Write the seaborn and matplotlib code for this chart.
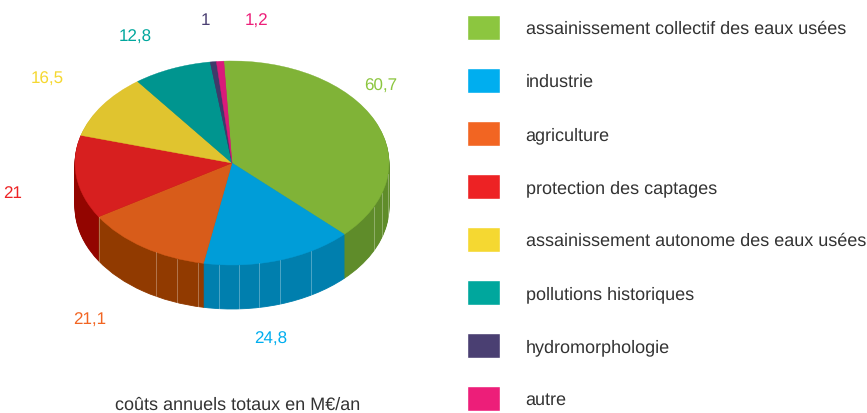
"""
plot.py

Pie chart drawn with a fake 3D side, plus a swatch list on the right.
"""
import numpy as np
import seaborn as sns
import matplotlib.pyplot as plt

categories = [
    "assainissement collectif des eaux usées",
    "industrie",
    "agriculture",
    "protection des captages",
    "assainissement autonome des eaux usées",
    "pollutions historiques",
    "hydromorphologie",
    "autre",
]
values = [60.7, 24.8, 21.1, 21, 16.5, 12.8, 1, 1.2]
value_labels = ["60,7", "24,8", "21,1", "21", "16,5", "12,8", "1", "1,2"]
caption = "coûts annuels totaux en M€/an"

legend_colors = ["#8cc63f", "#00aeef", "#f26522", "#ed2224", "#f5d831", "#00a79d", "#4a3f72", "#ed1e79"]
top_colors = ["#80b337", "#009dd8", "#d85c1a", "#d71f1f", "#e0c42f", "#00958f", "#3f3a6b", "#d91a7a"]
side_colors = ["#5f8c2a", "#007fae", "#913a00", "#930500", "#a08a10", "#006a66", "#2a2650", "#90104f"]
label_pos = [(381, 86), (271, 339), (90, 320), (13, 194), (47, 79), (135, 37), (205, 21), (257, 21)]

# light seams on the side of the pie, x in pixels
seam_x = [99, 156, 177, 198, 219, 239, 259, 280, 311, 374, 382, 388]

W, H = 867, 413
CX, CY, RX, RY = 232, 163, 157, 102
DEPTH = 44


def draw_pie(ax, colors, offset, lw):
    wedges, _ = ax.pie(values, colors=colors, startangle=93, counterclock=False,
                       center=(0, offset), radius=1, normalize=True)
    for wedge, color in zip(wedges, colors):
        wedge.set_edgecolor(color)
        wedge.set_linewidth(lw)


def main():
    sns.set_theme(style="white")
    plt.rcParams["font.family"] = ["Liberation Sans", "DejaVu Sans"]
    plt.rcParams["text.hinting"] = "no_hinting"
    plt.rcParams["text.hinting_factor"] = 1

    fig = plt.figure(figsize=(W / 100, H / 100), dpi=100)

    # pie axes covers the whole figure, unit circle squashed to the ellipse
    ax = fig.add_axes([0, 0, 1, 1])
    step = 1 / RY
    for k in range(DEPTH, 0, -1):
        draw_pie(ax, side_colors, -k * step, 0.6)
    draw_pie(ax, top_colors, 0, 0.3)
    ax.set_aspect("auto")
    ax.set_xlim(-CX / RX, (W - CX) / RX)
    ax.set_ylim((CY - H) / RY, CY / RY)
    ax.axis("off")

    for sx in seam_x:
        x = (sx - CX) / RX
        y = -np.sqrt(max(1 - x * x, 0))
        ax.plot([x, x], [y, y - DEPTH * step], color="white", alpha=0.3, lw=0.7)

    for text, color, (px, py) in zip(value_labels, legend_colors, label_pos):
        ax.text((px - CX) / RX, (CY - py) / RY, text, color=color, fontsize=12,
                ha="center", va="center")
    ax.text((238 - CX) / RX, (CY - 405) / RY, caption, color="#333333", fontsize=12.8,
            ha="center", va="center")

    # swatches: one bar per row, row labels are the tick labels
    lax = fig.add_axes([467 / W, (H - 425) / H, 33 / W, 424 / H])
    sns.barplot(x=[1] * len(categories), y=categories, hue=categories, palette=legend_colors,
                width=25 / 53, legend=False, saturation=1, ax=lax)
    lax.set_xlim(0, 1)
    lax.set_ylim(len(categories) - 0.5, -0.5)
    lax.set_xticks([])
    lax.yaxis.tick_right()
    lax.tick_params(axis="y", length=0, pad=18.5, labelsize=12.9, labelcolor="#333333")
    lax.set_xlabel("")
    lax.set_ylabel("")
    sns.despine(ax=lax, left=True, bottom=True, right=True, top=True)
    lax.patch.set_alpha(0)

    fig.savefig("out.png", dpi=100)


if __name__ == "__main__":
    main()
